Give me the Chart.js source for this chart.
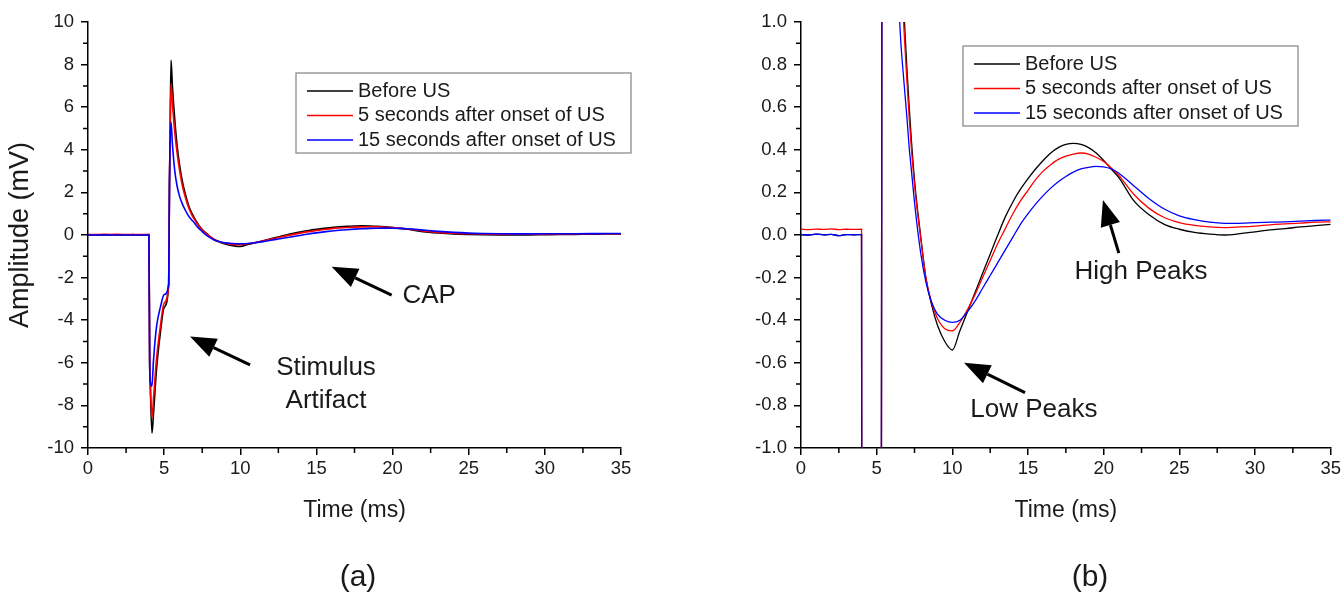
<!DOCTYPE html>
<html>
<head>
<meta charset="utf-8">
<script src="https://cdn.jsdelivr.net/npm/chart.js@4"></script>
<style>
  body { margin: 0; background: #fff; }
  #wrap { position: relative; width: 1344px; height: 595px; }
  canvas { position: absolute; top: 0; }
</style>
</head>
<body>
<div id="wrap">
  <canvas id="chartA" width="672" height="595" style="left:0"></canvas>
  <canvas id="chartB" width="672" height="595" style="left:672px"></canvas>
</div>
<script>
// Recorded traces (time in ms, amplitude in mV)
const timeMs = [
  0, 0.5, 1, 1.5, 2, 2.5, 3, 3.5, 4.0, 4.05, 4.08, 4.2, 4.3, 4.5, 4.75, 5.0, 5.3,
  5.35, 5.38, 5.45, 5.55, 5.7, 5.85, 6.0, 6.2, 6.4, 6.6, 6.8, 7.0, 7.15, 7.3, 7.55,
  7.9, 8.25, 8.6, 9.0, 9.5, 10.0, 10.5, 11.0, 11.5, 12.0, 12.5, 13.0, 13.5,
  14.0, 14.5, 15.0, 15.5, 16.0, 16.5, 17.0, 17.5, 18.0, 18.5, 19.0, 19.5,
  20.0, 20.5, 21.0, 22, 23, 24, 25, 26, 27, 28, 29, 30, 31, 32, 33, 34, 35
];
const beforeUS = [
  0.002, 0.0, 0.004, 0.001, 0.003, -0.003, 0.002, 0.001, 0.002, -6.0, -6.8, -9.3, -8.4, -6.3, -4.6, -3.4, -2.3,
  2.4, 4.0, 8.2, 6.9, 5.4, 4.2, 3.35, 2.5, 1.9, 1.4, 1.05, 0.78, 0.6, 0.44, 0.22,
  0.0, -0.2, -0.32, -0.42, -0.5, -0.54, -0.45, -0.36, -0.27, -0.18, -0.09, 0.0, 0.085,
  0.155, 0.215, 0.265, 0.31, 0.35, 0.385, 0.41, 0.425, 0.43, 0.425, 0.41, 0.385,
  0.35, 0.31, 0.27, 0.16, 0.095, 0.05, 0.027, 0.012, 0.004, 0.0, 0.006, 0.015, 0.024, 0.03, 0.038, 0.044, 0.05
];
const after5s = [
  0.027, 0.025, 0.028, 0.026, 0.029, 0.025, 0.027, 0.026, 0.027, -6.0, -6.8, -8.6, -7.7, -5.8, -4.3, -3.2, -2.3,
  2.4, 4.0, 7.1, 6.1, 4.8, 3.85, 3.1, 2.3, 1.75, 1.3, 0.97, 0.72, 0.55, 0.4, 0.2,
  -0.01, -0.2, -0.31, -0.39, -0.44, -0.45, -0.41, -0.35, -0.28, -0.2, -0.12, -0.04, 0.03,
  0.1, 0.16, 0.21, 0.26, 0.3, 0.33, 0.355, 0.37, 0.38, 0.385, 0.38, 0.365,
  0.345, 0.315, 0.28, 0.19, 0.125, 0.082, 0.058, 0.045, 0.038, 0.035, 0.038, 0.042, 0.048, 0.052, 0.056, 0.06, 0.062
];
const after15s = [
  0.002, 0.0, 0.004, 0.001, 0.003, -0.003, 0.002, 0.001, 0.002, -6.0, -6.8, -7.1, -5.9, -4.3, -3.4, -2.8, -2.3,
  2.4, 4.0, 5.3, 4.2, 3.0, 2.3, 1.85, 1.45, 1.15, 0.9, 0.72, 0.55, 0.41, 0.3, 0.12,
  -0.08, -0.22, -0.31, -0.37, -0.4, -0.41, -0.4, -0.36, -0.31, -0.25, -0.19, -0.13, -0.07,
  -0.01, 0.05, 0.1, 0.145, 0.185, 0.22, 0.25, 0.275, 0.295, 0.31, 0.318, 0.322,
  0.32, 0.31, 0.29, 0.23, 0.17, 0.122, 0.09, 0.072, 0.06, 0.055, 0.055, 0.058, 0.06, 0.062, 0.065, 0.068, 0.07
];
const seriesLabels = ['Before US', '5 seconds after onset of US', '15 seconds after onset of US'];
const seriesValues = [beforeUS, after5s, after15s];
const seriesColors = ['#000000', '#ff0000', '#0000ff'];

// Axis ranges and tick steps
const timeRange = [0, 35];
const timeStep = 5;
const amplitudeRangeA = [-10, 10];
const amplitudeStepA = 2;
const amplitudeRangeB = [-1, 1];
const amplitudeStepB = 0.2;

// Arrow annotations, in data coordinates
const notesA = [
  { lines: ['CAP'], at: [22.4, -2.86], tip: [16.0, -1.49], tail: [19.94, -2.82] },
  { lines: ['Stimulus', 'Artifact'], at: [15.63, -7.02], tip: [6.7, -4.77], tail: [10.64, -6.1] }
];
const notesB = [
  { lines: ['High Peaks'], at: [22.46, -0.174], tip: [19.95, 0.164], tail: [21.0, -0.085] },
  { lines: ['Low Peaks'], at: [15.39, -0.82], tip: [10.77, -0.6], tail: [14.8, -0.74] }
];

const FONT = '"Liberation Sans", Arial, sans-serif';
const TEXT = '#1a1a1a';

// Draws minor ticks, boxed legend, arrows and panel letter
const overlay = {
  id: 'overlay',
  afterDraw(chart, args, opts) {
    const ctx = chart.ctx;
    const xs = chart.scales.x;
    const ys = chart.scales.y;
    ctx.save();

    // minor ticks halfway between major ones
    ctx.strokeStyle = '#000';
    ctx.lineWidth = 1.5;
    ctx.beginPath();
    for (let v = timeRange[0] + timeStep / 2; v < timeRange[1]; v += timeStep) {
      const px = xs.getPixelForValue(v);
      ctx.moveTo(px, xs.top);
      ctx.lineTo(px, xs.top + 5);
    }
    for (let k = 0; k < (opts.yMax - opts.yMin) / opts.yStep; k++) {
      const py = ys.getPixelForValue(opts.yMin + (k + 0.5) * opts.yStep);
      ctx.moveTo(ys.right, py);
      ctx.lineTo(ys.right - 5, py);
    }
    ctx.stroke();

    // legend box
    const box = opts.legendBox;
    ctx.fillStyle = '#fff';
    ctx.fillRect(box.x, box.y, box.w, box.h);
    ctx.strokeStyle = '#8c8c8c';
    ctx.lineWidth = 1.3;
    ctx.strokeRect(box.x, box.y, box.w, box.h);
    ctx.font = '20px ' + FONT;
    ctx.textBaseline = 'middle';
    ctx.textAlign = 'left';
    chart.data.datasets.forEach((ds, i) => {
      const y = box.y + 18 + i * 24.5;
      ctx.strokeStyle = ds.borderColor;
      ctx.lineWidth = 1.5;
      ctx.beginPath();
      ctx.moveTo(box.x + 11, y);
      ctx.lineTo(box.x + 57, y);
      ctx.stroke();
      ctx.fillStyle = TEXT;
      ctx.fillText(ds.label, box.x + 62, y);
    });

    // arrows with labels
    opts.notes.forEach(n => {
      const tx = xs.getPixelForValue(n.tip[0]), ty = ys.getPixelForValue(n.tip[1]);
      const sx = xs.getPixelForValue(n.tail[0]), sy = ys.getPixelForValue(n.tail[1]);
      const ang = Math.atan2(ty - sy, tx - sx);
      const head = 26, half = 10;
      const bx = tx - head * Math.cos(ang), by = ty - head * Math.sin(ang);
      ctx.strokeStyle = '#000';
      ctx.lineWidth = 3;
      ctx.beginPath();
      ctx.moveTo(sx, sy);
      ctx.lineTo(bx, by);
      ctx.stroke();
      ctx.fillStyle = '#000';
      ctx.beginPath();
      ctx.moveTo(tx, ty);
      ctx.lineTo(bx + half * Math.sin(ang), by - half * Math.cos(ang));
      ctx.lineTo(bx - half * Math.sin(ang), by + half * Math.cos(ang));
      ctx.closePath();
      ctx.fill();

      ctx.fillStyle = TEXT;
      ctx.font = '26px ' + FONT;
      ctx.textAlign = 'center';
      const cx = xs.getPixelForValue(n.at[0]), cy = ys.getPixelForValue(n.at[1]);
      n.lines.forEach((line, j) => {
        ctx.fillText(line, cx, cy + (j - (n.lines.length - 1) / 2) * 33);
      });
    });

    // panel letter
    ctx.font = '30px ' + FONT;
    ctx.textAlign = 'center';
    ctx.fillStyle = TEXT;
    ctx.fillText(opts.letter.text, opts.letter.x, opts.letter.y);
    ctx.restore();
  }
};

function renderPanel(canvasId, cfg) {
  const ctx = document.getElementById(canvasId).getContext('2d');
  return new Chart(ctx, {
    type: 'line',
    data: {
      datasets: seriesLabels.map((label, i) => ({
        label: label,
        data: timeMs.map((t, j) => ({ x: t, y: seriesValues[i][j] })),
        borderColor: seriesColors[i],
        borderWidth: cfg.lineWidth,
        pointRadius: 0,
        cubicInterpolationMode: 'monotone',
        fill: false,
        // later series are painted over earlier ones
        order: seriesLabels.length - i
      }))
    },
    options: {
      responsive: false,
      animation: false,
      layout: { padding: { left: 0, right: cfg.padRight, top: 22, bottom: 0 } },
      plugins: {
        legend: { display: false },
        tooltip: { enabled: false },
        overlay: {
          yMin: cfg.yRange[0], yMax: cfg.yRange[1], yStep: cfg.yStep,
          legendBox: cfg.legendBox,
          notes: cfg.notes,
          letter: cfg.letter
        }
      },
      scales: {
        x: {
          type: 'linear',
          min: timeRange[0],
          max: timeRange[1],
          ticks: {
            stepSize: timeStep, autoSkip: false, maxRotation: 0, padding: 3,
            color: TEXT, font: { family: FONT, size: 18.5 }
          },
          grid: { drawOnChartArea: false, drawTicks: true, tickLength: 7, tickColor: '#000', lineWidth: 1.5 },
          border: { color: '#000', width: 1.5 },
          title: {
            display: true, text: 'Time (ms)', color: TEXT,
            font: { family: FONT, size: 23 }, padding: { top: 0, bottom: 71 }
          },
          afterFit(scale) { scale.height = 147; }
        },
        y: {
          type: 'linear',
          min: cfg.yRange[0],
          max: cfg.yRange[1],
          ticks: {
            stepSize: cfg.yStep, autoSkip: false, padding: 7,
            color: TEXT, font: { family: FONT, size: 18.5 },
            callback: cfg.yFormat
          },
          grid: { drawOnChartArea: false, drawTicks: true, tickLength: 7, tickColor: '#000', lineWidth: 1.5 },
          border: { color: '#000', width: 1.5 },
          title: {
            display: cfg.yTitle !== '', text: cfg.yTitle, color: TEXT,
            font: { family: FONT, size: 27 }, padding: { top: 4, bottom: 0 }
          },
          afterFit(scale) { scale.width = cfg.yWidth; }
        }
      }
    },
    plugins: [overlay]
  });
}

renderPanel('chartA', {
  lineWidth: 1.6,
  padRight: 51,
  yWidth: 88,
  yRange: amplitudeRangeA,
  yStep: amplitudeStepA,
  yFormat: v => String(Math.round(v)),
  yTitle: 'Amplitude (mV)',
  legendBox: { x: 296, y: 73, w: 335, h: 80 },
  notes: notesA,
  letter: { text: '(a)', x: 358, y: 578 }
});

renderPanel('chartB', {
  lineWidth: 1.3,
  padRight: 13,
  yWidth: 129,
  yRange: amplitudeRangeB,
  yStep: amplitudeStepB,
  yFormat: v => (Math.abs(v) < 1e-9 ? 0 : v).toFixed(1),
  yTitle: '',
  legendBox: { x: 291, y: 46, w: 335, h: 80 },
  notes: notesB,
  letter: { text: '(b)', x: 418, y: 578 }
});
</script>
</body>
</html>
